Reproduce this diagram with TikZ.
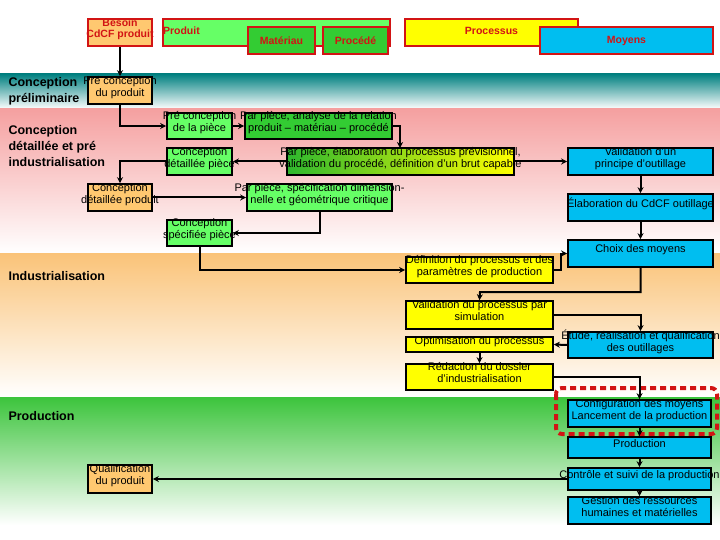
\documentclass[tikz,border=0pt]{standalone}
\usepackage{fontspec}
\setmainfont{Liberation Sans}
\usetikzlibrary{arrows.meta}
\definecolor{cblue}{RGB}{0,190,240}
\definecolor{cor}{RGB}{255,200,112}
\definecolor{clg}{RGB}{102,255,102}
\definecolor{cdg}{RGB}{51,204,51}
\definecolor{cyel}{RGB}{255,255,0}
\definecolor{cred}{RGB}{210,20,20}
\definecolor{cteal}{RGB}{0,128,128}
\definecolor{cpink}{RGB}{245,160,160}
\definecolor{cband}{RGB}{250,195,120}
\definecolor{cgreen}{RGB}{60,196,60}
\newcommand\ovt[1]{\smash{\makebox[0pt]{\begin{tabular}{@{}c@{}}#1\end{tabular}}}}
\renewcommand\arraystretch{0.95}
\begin{document}
\begin{tikzpicture}[x=1pt,y=-1pt,
 box/.style={draw=black,line width=1.6pt,inner sep=0pt,align=center,font=\fontsize{11}{13}\selectfont},
 hbox/.style={draw=cred,line width=1.6pt,inner sep=0pt,align=center,font=\bfseries\fontsize{10.5}{12}\selectfont,text=cred},
 lab/.style={anchor=west,align=left,font=\bfseries\fontsize{12.5}{16}\selectfont},
 arr/.style={line width=2pt,-{Stealth[length=6pt,width=6pt]}}]
\useasboundingbox (0,0) rectangle (720,540);
\fill[white] (0,0) rectangle (720,540);
% bands
\shade[top color=cteal,bottom color=white] (0,74) rectangle (720,109);
\shade[top color=cpink,bottom color=white] (0,109) rectangle (720,253);
\shade[top color=cband,bottom color=white] (0,253) rectangle (720,397);
\shade[top color=cgreen,bottom color=white] (0,397) rectangle (720,525);
% labels
\node[lab] at (5,91) {Conception\\préliminaire};
\node[lab] at (5,146) {Conception\\détaillée et pré\\industrialisation};
\node[lab] at (5,276) {Industrialisation};
\node[lab] at (5,416) {Production};
% header boxes
\node[hbox,fill=cor,minimum width=64,minimum height=27] (bes) at (120,32.5) {\ovt{Besoin\\CdCF produit}};
\node[hbox,fill=clg,minimum width=227,minimum height=27,text width=227,align=left] (prod) at (276.5,32.5) {\raisebox{3pt}{Produit}};
\node[hbox,fill=cdg,minimum width=67,minimum height=27] (mat) at (281.5,40.5) {Matériau};
\node[hbox,fill=cdg,minimum width=65,minimum height=27] (proc) at (355.5,40.5) {Procédé};
\node[hbox,fill=cyel,minimum width=173,minimum height=27] (pss) at (491.5,32.5) {\raisebox{3pt}{Processus}};
\node[hbox,fill=cblue,minimum width=173,minimum height=27] (moy) at (626.5,40.5) {Moyens};
% boxes
\node[box,fill=cor,minimum width=64,minimum height=27] (pcp) at (120,90.5) {\ovt{Pré conception\\du produit}};
\node[box,fill=clg,minimum width=65,minimum height=26] (pcpi) at (199.5,126) {\ovt{Pré conception\\de la pièce}};
\node[box,fill=cdg,minimum width=147,minimum height=26] (ana) at (318.5,126) {\ovt{Par pièce, analyse de la relation\\produit – matériau – procédé}};
\node[box,fill=clg,minimum width=65,minimum height=27] (cdp) at (199.5,161.5) {\ovt{Conception\\détaillée pièce}};
\node[box,left color=cdg!90!black,right color=cyel,minimum width=227,minimum height=27] (ela) at (400.5,161.5) {\ovt{Par pièce, élaboration du processus prévisionnel,\\validation du procédé, définition d'un brut capable}};
\node[box,fill=cblue,minimum width=145,minimum height=27] (val) at (640.5,161.5) {\ovt{Validation d'un\\principe d'outillage}};
\node[box,fill=cor,minimum width=64,minimum height=27] (cdpr) at (120,197.5) {\ovt{Conception\\détaillée produit}};
\node[box,fill=clg,minimum width=145,minimum height=27] (spe) at (319.5,197.5) {\ovt{Par pièce, spécification dimension-\\nelle et géométrique critique}};
\node[box,fill=cblue,minimum width=145,minimum height=27] (cdcf) at (640.5,207.5) {\ovt{Élaboration du CdCF outillage}};
\node[box,fill=clg,minimum width=65,minimum height=26] (csp) at (199.5,233) {\ovt{Conception\\spécifiée pièce}};
\node[box,fill=cblue,minimum width=145,minimum height=27] (cho) at (640.5,253.5) {\raisebox{2pt}{\ovt{Choix des moyens}}};
\node[box,fill=cyel,minimum width=147,minimum height=26] (def) at (479.5,270) {\ovt{Définition du processus et des\\paramètres de production}};
\node[box,fill=cyel,minimum width=147,minimum height=28] (vps) at (479.5,315) {\ovt{Validation du processus par\\simulation}};
\node[box,fill=cblue,minimum width=145,minimum height=26] (etu) at (640.5,345) {\ovt{Étude, réalisation et qualification\\des outillages}};
\node[box,fill=cyel,minimum width=147,minimum height=15] (opt) at (479.5,344.5) {\ovt{Optimisation du processus}};
\node[box,fill=cyel,minimum width=147,minimum height=26] (red) at (479.5,377) {\ovt{Rédaction du dossier\\d'industrialisation}};
\node[box,fill=cblue,minimum width=143,minimum height=27] (cfg) at (639.5,413.5) {\ovt{Configuration des moyens\\Lancement de la production}};
\draw[cred,line width=4pt,dash pattern=on 6pt off 4pt,rounded corners=6pt] (556,388) rectangle (717,434);
\node[box,fill=cblue,minimum width=143,minimum height=21] (pro) at (639.5,447.5) {\ovt{Production}};
\node[box,fill=cblue,minimum width=143,minimum height=22] (con) at (639.5,479) {\ovt{Contrôle et suivi de la production}};
\node[box,fill=cblue,minimum width=143,minimum height=27] (ges) at (639.5,510.5) {\ovt{Gestion des ressources\\humaines et matérielles}};
\node[box,fill=cor,minimum width=64,minimum height=28] (qua) at (120,479) {\ovt{Qualification\\du produit}};
% arrows
\draw[arr] (bes) -- (pcp);
\draw[arr] (pcp.south) |- (pcpi.west);
\draw[arr] (pcpi) -- (ana);
\draw[arr] (ana.east) -| (400,148);
\draw[arr] (ela) -- (cdp);
\draw[arr] (ela) -- (val);
\draw[arr] (cdp.west) -| (cdpr.north);
\draw[arr] (cdpr) -- (spe);
\draw[arr] (spe.south) |- (csp.east);
\draw[arr] (csp.south) |- (def.west);
\draw[arr] (def.east) -- (561,270) |- (cho.west);
\draw[arr] (val) -- (cdcf);
\draw[arr] (cdcf) -- (cho);
\draw[arr] (cho.south) |- (480,292) -- (vps.north);
\draw[arr] (vps.east) -| (etu.north);
\draw[arr] (etu.west) -- (opt.east);
\draw[arr] (opt) -- (red);
\draw[arr] (red.east) -| (cfg.north);
\draw[arr] (cfg) -- (pro);
\draw[arr] (pro) -- (con);
\draw[arr] (con) -- (ges);
\draw[arr] (con) -- (qua);
\end{tikzpicture}
\end{document}
